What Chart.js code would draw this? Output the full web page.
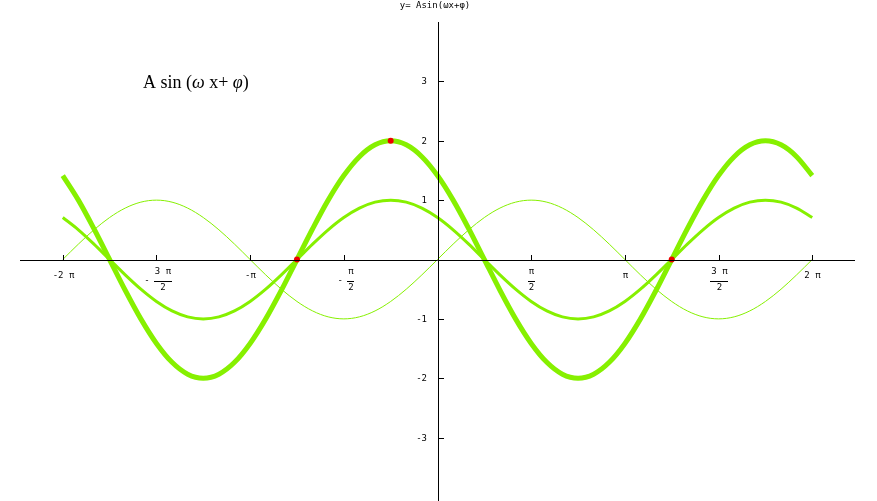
<!DOCTYPE html>
<html>
<head>
<meta charset="utf-8">
<script src="https://cdn.jsdelivr.net/npm/chart.js@4/dist/chart.umd.min.js"></script>
<style>
html,body{margin:0;padding:0;background:#fff;overflow:hidden;}
canvas{display:block;}
</style>
</head>
<body>
<canvas id="c" width="877" height="501" style="width:877px;height:501px;"></canvas>
<script>
// x positions (radians, steps of pi/12 from -2pi to 2pi)
const xValues = [-6.283,-6.021,-5.760,-5.498,-5.236,-4.974,-4.712,-4.451,-4.189,-3.927,-3.665,-3.403,-3.142,-2.880,-2.618,-2.356,-2.094,-1.833,-1.571,-1.309,-1.047,-0.785,-0.524,-0.262,0,
  0.262,0.524,0.785,1.047,1.309,1.571,1.833,2.094,2.356,2.618,2.880,3.142,3.403,3.665,3.927,4.189,4.451,4.712,4.974,5.236,5.498,5.760,6.021,6.283];
// thin curve: sin x
const thinCurve = [0,0.259,0.5,0.707,0.866,0.966,1,0.966,0.866,0.707,0.5,0.259,0,-0.259,-0.5,-0.707,-0.866,-0.966,-1,-0.966,-0.866,-0.707,-0.5,-0.259,0,
  0.259,0.5,0.707,0.866,0.966,1,0.966,0.866,0.707,0.5,0.259,0,-0.259,-0.5,-0.707,-0.866,-0.966,-1,-0.966,-0.866,-0.707,-0.5,-0.259,0];
// medium curve: sin(x + 3pi/4)
const mediumCurve = [0.707,0.5,0.259,0,-0.259,-0.5,-0.707,-0.866,-0.966,-1,-0.966,-0.866,-0.707,-0.5,-0.259,0,0.259,0.5,0.707,0.866,0.966,1,0.966,0.866,
  0.707,0.5,0.259,0,-0.259,-0.5,-0.707,-0.866,-0.966,-1,-0.966,-0.866,-0.707,-0.5,-0.259,0,0.259,0.5,0.707,0.866,0.966,1,0.966,0.866,0.707];
// thick curve: 2 sin(x + 3pi/4)
const thickCurve = [1.414,1,0.518,0,-0.518,-1,-1.414,-1.732,-1.932,-2,-1.932,-1.732,-1.414,-1,-0.518,0,0.518,1,1.414,1.732,1.932,2,1.932,1.732,
  1.414,1,0.518,0,-0.518,-1,-1.414,-1.732,-1.932,-2,-1.932,-1.732,-1.414,-1,-0.518,0,0.518,1,1.414,1.732,1.932,2,1.932,1.732,1.414];
// red marked points
const markX = [-2.356,-0.785,3.927];
const markY = [0,2,0];
// tick positions and labels
const xTickValues = [-6.283,-4.712,-3.142,-1.571,1.571,3.142,4.712,6.283];
const xTickLabels = ['-2 π','-3 π/2','-π','-π/2','π/2','π','3 π/2','2 π'];
const yTickValues = [-3,-2,-1,1,2,3];
const yTickLabels = ['-3','-2','-1','1','2','3'];
const titleText = 'y= Asin(ωx+φ)';

const GREEN = '#86f000';
const toPts = (ys) => xValues.map((x,i)=>({x:x,y:ys[i]}));

const axisPlugin = {
  id:'axisDeco',
  afterDatasetsDraw(chart){
    const ctx = chart.ctx;
    const xs = chart.scales.x, ys = chart.scales.y;
    const y0 = Math.round(ys.getPixelForValue(0)), x0 = Math.round(xs.getPixelForValue(0));
    ctx.save();
    ctx.strokeStyle = '#000';
    ctx.fillStyle = '#000';
    ctx.lineWidth = 1;
    // axes lines
    ctx.beginPath();
    ctx.moveTo(chart.chartArea.left, y0+0.5);
    ctx.lineTo(chart.chartArea.right, y0+0.5);
    ctx.moveTo(x0+0.5, chart.chartArea.top);
    ctx.lineTo(x0+0.5, 501);
    ctx.stroke();
    ctx.font = '9px "DejaVu Sans Mono"';
    // x ticks
    xTickValues.forEach((v,i)=>{
      const px = Math.round(xs.getPixelForValue(v))+0.5;
      ctx.beginPath(); ctx.moveTo(px, y0-5); ctx.lineTo(px, y0); ctx.stroke();
      const lab = xTickLabels[i];
      ctx.textAlign='center'; ctx.textBaseline='middle';
      if (lab.indexOf('/')>=0){
        let sign = '';
        let body = lab;
        if (body[0]==='-'){ sign='-'; body=body.slice(1); }
        const parts = body.split('/');
        const nw = Math.max(ctx.measureText(parts[0]).width, ctx.measureText(parts[1]).width)+2;
        const sw = sign ? 9 : 0;
        const total = sw + nw;
        const left = px - total/2 + (sign?2:0);
        const fc = left + sw + nw/2;
        if (sign) ctx.fillText('-', left + 2, y0+21);
        ctx.fillText(parts[0], fc, y0+12);
        ctx.fillRect(Math.round(fc-nw/2), y0+21, Math.round(nw), 1);
        ctx.fillText(parts[1], fc, y0+28);
      } else {
        ctx.fillText(lab, px, y0+16);
      }
    });
    // y ticks
    yTickValues.forEach((v,i)=>{
      const py = Math.round(ys.getPixelForValue(v))+0.5;
      ctx.beginPath(); ctx.moveTo(x0, py); ctx.lineTo(x0+6, py); ctx.stroke();
      ctx.textAlign='right'; ctx.textBaseline='middle';
      ctx.fillText(yTickLabels[i], x0-11, py);
    });
    // title
    ctx.textAlign='center'; ctx.textBaseline='middle';
    ctx.fillText(titleText, 435, 6);
    // formula label
    ctx.textAlign='left'; ctx.textBaseline='alphabetic';
    let tx = 143; const ty = 88;
    const segs = [['A sin (', 'normal'],['ω','italic'],[' x+ ','normal'],['φ','italic'],[')','normal']];
    segs.forEach(s=>{
      ctx.font = s[1]+' 18px "Liberation Serif"';
      ctx.fillText(s[0], tx, ty);
      tx += ctx.measureText(s[0]).width;
    });
    ctx.restore();
  }
};

new Chart(document.getElementById('c'), {
  type:'scatter',
  data:{
    datasets:[
      {type:'line', data:toPts(thickCurve), borderColor:GREEN, borderWidth:5, pointRadius:0, cubicInterpolationMode:'monotone', fill:false, order:3},
      {type:'line', data:toPts(mediumCurve), borderColor:GREEN, borderWidth:3, pointRadius:0, cubicInterpolationMode:'monotone', fill:false, order:2},
      {type:'line', data:toPts(thinCurve), borderColor:GREEN, borderWidth:1, pointRadius:0, cubicInterpolationMode:'monotone', fill:false, order:1},
      {type:'scatter', data:markX.map((x,i)=>({x:x,y:markY[i]})), backgroundColor:'#ee0000', borderColor:'#ee0000', pointRadius:3, borderWidth:0, order:0}
    ]
  },
  options:{
    responsive:false, animation:false, devicePixelRatio:1,
    layout:{padding:{left:20,right:22,top:22,bottom:1}},
    plugins:{legend:{display:false}, tooltip:{enabled:false}},
    scales:{
      x:{type:'linear', min:-7, max:7, display:false},
      y:{type:'linear', min:-4, max:4, display:false}
    }
  },
  plugins:[axisPlugin]
});
</script>
</body>
</html>
